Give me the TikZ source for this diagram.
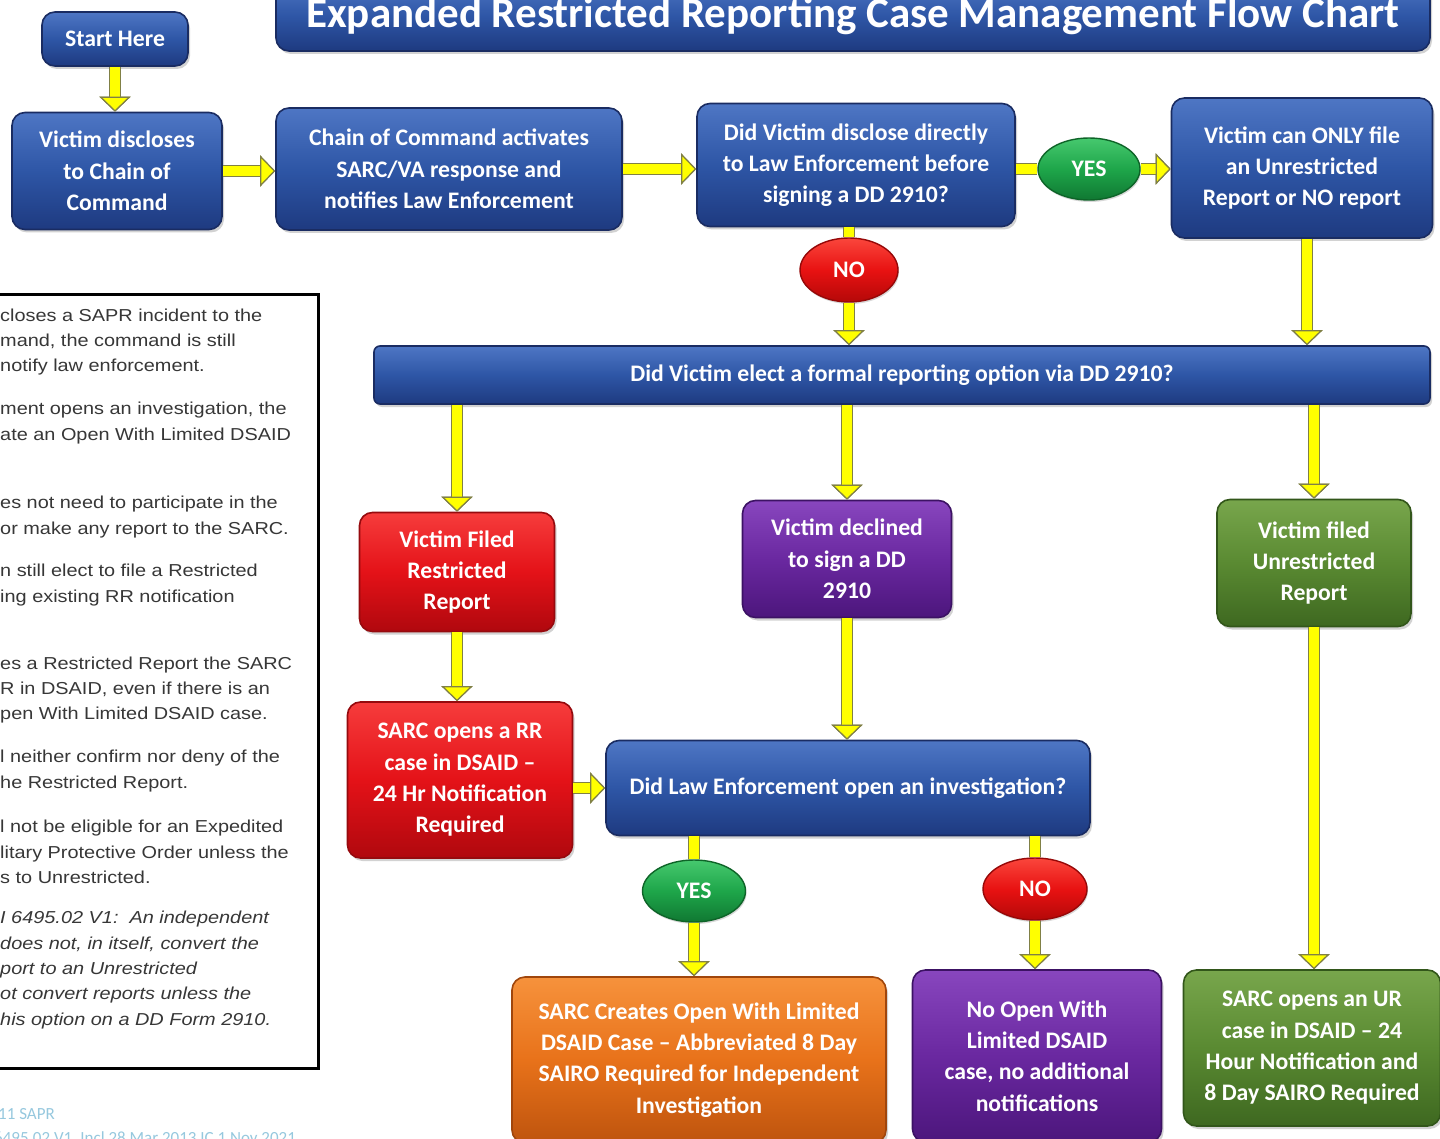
\documentclass[tikz,border=0pt]{standalone}
\usepackage{fontspec}
\setmainfont{Liberation Sans}
\newfontfamily\chartfont{Carlito}
\newfontfamily\notefam[FakeStretch=1.15]{Liberation Sans}
\usetikzlibrary{arrows.meta,shapes.geometric,shadows}

\newcommand\boxfont{\chartfont\bfseries\fontsize{23.7}{31.3}\selectfont}
\newcommand\notefont{\notefam\fontsize{17.3}{25.3}\selectfont}

\begin{document}
\begin{tikzpicture}[x=1pt,y=-1pt,
  box/.style={rounded corners=13pt, align=center, inner sep=4pt, text=white,
    font=\boxfont, line width=1.6pt,
    drop shadow={shadow xshift=2pt, shadow yshift=-3pt, opacity=0.35}},
  blueBox/.style={box, top color=bluTop, bottom color=bluBot, middle color=bluMid, draw=bluLine},
  redBox/.style={box, top color=redTop, bottom color=redBot, middle color=redMid, draw=redLine},
  purpleBox/.style={box, top color=purTop, bottom color=purBot, middle color=purMid, draw=purLine},
  greenBox/.style={box, top color=grnTop, bottom color=grnBot, middle color=grnMid, draw=grnLine},
  orangeBox/.style={box, top color=orgTop, bottom color=orgBot, middle color=orgMid, draw=orgLine},
  yesBall/.style={ellipse, inner sep=0pt, text=white, font=\boxfont, line width=1.4pt,
    minimum width=102pt, minimum height=62pt,
    top color=yesTop, bottom color=yesBot, middle color=yesMid, draw=yesLine,
    drop shadow={shadow xshift=1pt, shadow yshift=-2pt, opacity=0.3}},
  noBall/.style={yesBall, top color=noTop, bottom color=noBot, middle color=noMid, draw=noLine},
  link/.style={draw=arrYel, line width=10pt,
    preaction={draw=arrOut, line width=12.5pt}},
  flow/.style={link, -{Triangle[width=31pt,length=15pt,fill=arrYel,color=arrOut,line width=1.2pt]},
    preaction={draw=arrOut, line width=12.5pt, arrows=-, shorten >=14pt}},
  note/.style={anchor=west, align=left, inner sep=0pt, font=\notefont, text=noteGray}
]

% Colori
\definecolor{bluTop}{RGB}{78,118,196}
\definecolor{bluMid}{RGB}{46,86,166}
\definecolor{bluBot}{RGB}{30,58,128}
\definecolor{bluLine}{RGB}{26,44,98}
\definecolor{redTop}{RGB}{246,60,60}
\definecolor{redMid}{RGB}{228,18,24}
\definecolor{redBot}{RGB}{176,8,14}
\definecolor{redLine}{RGB}{150,10,14}
\definecolor{purTop}{RGB}{136,70,190}
\definecolor{purMid}{RGB}{106,40,160}
\definecolor{purBot}{RGB}{76,22,124}
\definecolor{purLine}{RGB}{60,18,100}
\definecolor{grnTop}{RGB}{120,166,76}
\definecolor{grnMid}{RGB}{90,138,50}
\definecolor{grnBot}{RGB}{62,104,32}
\definecolor{grnLine}{RGB}{50,86,26}
\definecolor{orgTop}{RGB}{246,146,60}
\definecolor{orgMid}{RGB}{232,114,26}
\definecolor{orgBot}{RGB}{190,84,14}
\definecolor{orgLine}{RGB}{160,70,12}
\definecolor{yesTop}{RGB}{70,200,110}
\definecolor{yesMid}{RGB}{30,166,74}
\definecolor{yesBot}{RGB}{16,120,50}
\definecolor{yesLine}{RGB}{14,100,40}
\definecolor{noTop}{RGB}{250,70,60}
\definecolor{noMid}{RGB}{232,18,18}
\definecolor{noBot}{RGB}{180,8,8}
\definecolor{noLine}{RGB}{150,8,8}
\definecolor{arrYel}{RGB}{255,255,0}
\definecolor{arrOut}{RGB}{128,128,70}
\definecolor{noteGray}{RGB}{55,55,55}
\definecolor{footCol}{RGB}{150,200,222}

\useasboundingbox[fill=white] (0,0) rectangle (1440,1139);

% Titolo
\node[blueBox, minimum width=1154pt, minimum height=70pt,
  font=\chartfont\bfseries\fontsize{43}{44}\selectfont] (title) at (853,16)
  {Expanded Restricted Reporting Case Management Flow Chart};

% Riga superiore
\node[blueBox, minimum width=146pt, minimum height=54pt] (start) at (115,39) {Start Here};
\node[blueBox, minimum width=210pt, minimum height=117pt] (disc) at (117,171)
  {Victim discloses\\to Chain of\\Command};
\node[blueBox, minimum width=346pt, minimum height=122pt] (coc) at (449,169)
  {Chain of Command activates\\SARC/VA response and\\notifies Law Enforcement};
\node[blueBox, minimum width=318pt, minimum height=123pt] (direct) at (856,165)
  {Did Victim disclose directly\\to Law Enforcement before\\signing a DD 2910?};
\node[yesBall] (yes1) at (1089,169) {YES};
\node[blueBox, minimum width=261pt, minimum height=140pt] (only) at (1302,168)
  {Victim can ONLY file\\an Unrestricted\\Report or NO report};
\node[noBall, minimum width=98pt, minimum height=64pt] (no1) at (849,270) {NO};

% Scelta DD 2910
\node[blueBox, rounded corners=6pt, minimum width=1056pt, minimum height=58pt] (elect) at (902,375)
  {Did Victim elect a formal reporting option via DD 2910?};

\node[redBox, minimum width=195pt, minimum height=119pt] (rr) at (457,572)
  {Victim Filed\\Restricted\\Report};
\node[purpleBox, minimum width=209pt, minimum height=117pt] (decl) at (847,559)
  {Victim declined\\to sign a DD\\2910};
\node[greenBox, minimum width=194pt, minimum height=127pt] (ur) at (1314,563)
  {Victim filed\\Unrestricted\\Report};

\node[redBox, minimum width=225pt, minimum height=156pt] (rrcase) at (460,780)
  {SARC opens a RR\\case in DSAID –\\24 Hr Notification\\Required};
\node[blueBox, minimum width=484pt, minimum height=95pt] (law) at (848,788)
  {Did Law Enforcement open an investigation?};
\node[yesBall, minimum width=103pt] (yes2) at (694,891) {YES};
\node[noBall, minimum width=104pt] (no2) at (1035,889) {NO};

% Riga inferiore
\node[orangeBox, minimum width=374pt, minimum height=166pt] (owl) at (699,1060)
  {SARC Creates Open With Limited\\DSAID Case – Abbreviated 8 Day\\SAIRO Required for Independent\\Investigation};
\node[purpleBox, minimum width=249pt, minimum height=172pt] (noowl) at (1037,1056)
  {No Open With\\Limited DSAID\\case, no additional\\notifications};
\node[greenBox, minimum width=257pt, minimum height=156pt] (urcase) at (1312,1048)
  {SARC opens an UR\\case in DSAID – 24\\Hour Notification and\\8 Day SAIRO Required};

% Frecce
\draw[flow] (start.south) -- (start.south |- disc.north);
\draw[flow] (disc.east) -- (disc.east -| coc.west);
\draw[flow] (coc.east) -- (coc.east -| direct.west);
\draw[link] (direct.east |- yes1.west) -- (yes1.west);
\draw[flow] (yes1.east) -- (yes1.east -| only.west);
\draw[link] (direct.south -| no1.north) -- (no1.north);
\draw[flow] (no1.south) -- (no1.south |- elect.north);
\draw[flow] (only.south -| 1307,0) -- (elect.north -| 1307,0);
\draw[flow] (elect.south -| rr.north) -- (rr.north);
\draw[flow] (elect.south -| decl.north) -- (decl.north);
\draw[flow] (elect.south -| ur.north) -- (ur.north);
\draw[flow] (rr.south) -- (rr.south |- rrcase.north);
\draw[flow] (decl.south) -- (decl.south |- law.north);
\draw[flow] (rrcase.east |- law.west) -- (law.west);
\draw[link] (law.south -| yes2.north) -- (yes2.north);
\draw[flow] (yes2.south) -- (yes2.south |- owl.north);
\draw[link] (law.south -| no2.north) -- (no2.north);
\draw[flow] (no2.south) -- (no2.south |- noowl.north);
\draw[flow] (ur.south) -- (ur.south |- urcase.north);

% Riquadro note (tagliato a sinistra)
\draw[line width=3pt] (-20,295) rectangle (318,1068);
\node[note] (note1) at (0,342) {closes a SAPR incident to the\\mand, the command is still\\notify law enforcement.};
\node[note] (note2) at (0,423) {ment opens an investigation, the\\ate an Open With Limited DSAID};
\node[note] (note3) at (0,517) {es not need to participate in the\\or make any report to the SARC.};
\node[note] (note4) at (0,585) {n still elect to file a Restricted\\ing existing RR notification};
\node[note] (note5) at (0,690) {es a Restricted Report the SARC\\R in DSAID, even if there is an\\pen With Limited DSAID case.};
\node[note] (note6) at (0,771) {l neither confirm nor deny of the\\he Restricted Report.};
\node[note] (note7) at (0,852) {l not be eligible for an Expedited\\litary Protective Order unless the\\s to Unrestricted.};
\node[note, font=\notefont\itshape] (note8) at (0,970)
  {I 6495.02 V1:\ \ An independent\\does not, in itself, convert the\\port to an Unrestricted\\ot convert reports unless the\\his option on a DD Form 2910.};

% Piede
\node[anchor=west, inner sep=0pt, text=footCol, font=\chartfont\fontsize{17}{18}\selectfont] (foot1) at (-2,1114) {11 SAPR};
\node[anchor=west, inner sep=0pt, text=footCol, font=\chartfont\fontsize{17}{18}\selectfont] (foot2) at (-6,1139) {6495.02 V1, Incl 28 Mar 2013 IC 1 Nov 2021};
\end{tikzpicture}
\end{document}
